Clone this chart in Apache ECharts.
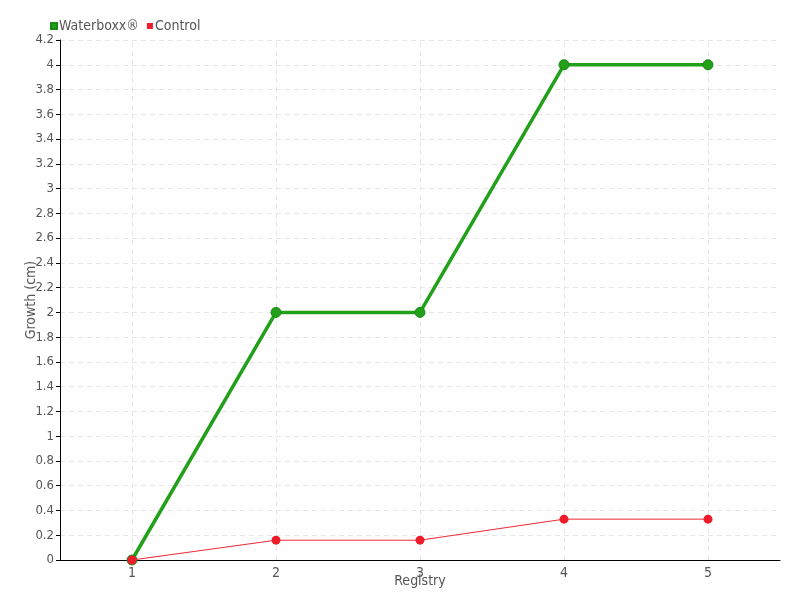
<!DOCTYPE html>
<html><head><meta charset="utf-8">
<script src="https://cdn.jsdelivr.net/npm/echarts@6/dist/echarts.min.js"></script>
<style>html,body{margin:0;padding:0;background:#fff}#c{width:800px;height:600px}</style>
</head><body><div id="c"></div>
<script>
const categories = ['1', '2', '3', '4', '5'];
const waterboxx = [0, 2, 2, 4, 4];
const control = [0, 0.16, 0.16, 0.33, 0.33];
const seriesNames = ['Waterboxx®', 'Control'];
const yTicks = { min: 0, max: 4.2, interval: 0.2 };

const font = '"DejaVu Sans Condensed", "Roboto", sans-serif';
const chart = echarts.init(document.getElementById('c'), null, { renderer: 'canvas' });
chart.setOption({
  animation: false,
  textStyle: { fontFamily: font },
  legend: {
    left: 45, top: 14, itemWidth: 6, itemHeight: 6, itemGap: 8,
    icon: 'rect',
    textStyle: { fontFamily: font, fontSize: 14, color: '#555', padding: [0, 0, 0, -3] },
    data: seriesNames
  },
  grid: { left: 60, right: 20, top: 40, bottom: 40, outerBoundsMode: 'none', containLabel: false },
  xAxis: {
    type: 'category', data: categories, boundaryGap: true,
    name: 'Registry', nameLocation: 'middle', nameGap: 14, nameMoveOverlap: false,
    nameTextStyle: { fontFamily: font, fontSize: 14, color: '#555' },
    axisLine: { lineStyle: { color: '#000', width: 1 } },
    axisTick: { alignWithLabel: true, length: 5, lineStyle: { color: '#555' } },
    axisLabel: { fontFamily: font, fontSize: 14, color: '#555', margin: 6 },
    splitLine: { show: false }
  },
  yAxis: {
    type: 'value', min: yTicks.min, max: yTicks.max, interval: yTicks.interval,
    name: 'Growth (cm)', nameLocation: 'middle', nameGap: 22, nameMoveOverlap: false,
    nameTextStyle: { fontFamily: font, fontSize: 14, color: '#555' },
    axisLine: { show: true, lineStyle: { color: '#000', width: 1 } },
    axisTick: { show: true, length: 4, lineStyle: { color: '#000' } },
    axisLabel: { fontFamily: font, fontSize: 13, color: '#555', margin: 6,
      formatter: v => String(Math.round(v * 10) / 10) },
    splitLine: { show: true, lineStyle: { color: '#e6e6e6', type: [5, 4] } }
  },
  series: [
    {
      name: seriesNames[0], type: 'line', data: waterboxx,
      symbol: 'circle', symbolSize: 10, z: 3,
      lineStyle: { color: '#22a01a', width: 3.5 },
      itemStyle: { color: '#22a01a', borderColor: '#1a8a14', borderWidth: 1 },
      markLine: {
        silent: true, symbol: 'none', label: { show: false },
        lineStyle: { color: '#e6e6e6', type: [5, 4], width: 1 },
        data: categories.map(c => ({ xAxis: c })),
        z: 0
      }
    },
    {
      name: seriesNames[1], type: 'line', data: control,
      symbol: 'circle', symbolSize: 9, z: 4,
      lineStyle: { color: '#ee2a36', width: 1 },
      itemStyle: { color: '#ee1c2a' }
    }
  ]
});
</script></body></html>
